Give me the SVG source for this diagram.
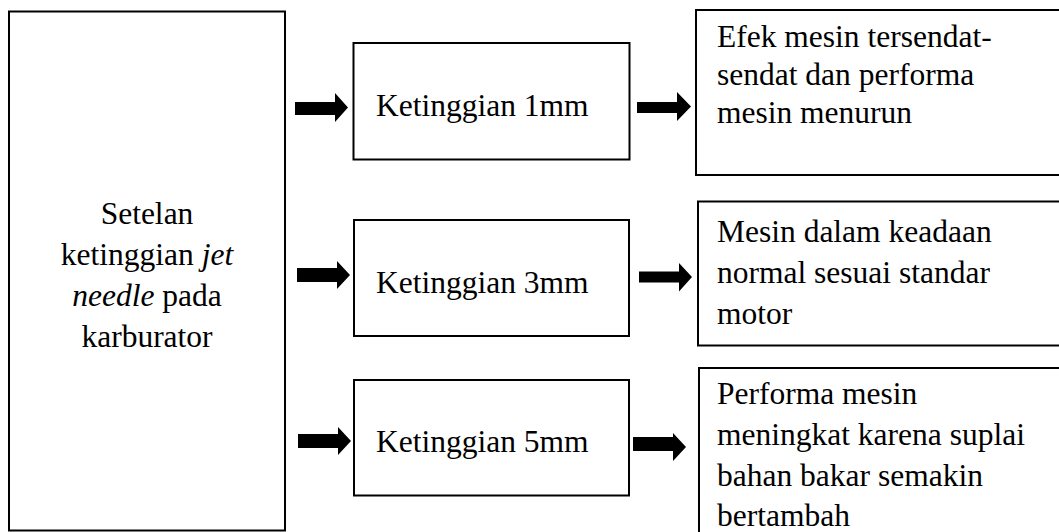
<svg xmlns="http://www.w3.org/2000/svg" width="1059" height="532" viewBox="0 0 1059 532">
<style>
.box{fill:#fff;stroke:#000;stroke-width:2}
.t{font-family:"Liberation Serif","Times New Roman",serif;font-size:31.5px;fill:#000}
.c{text-anchor:middle}
.arr{fill:#000;stroke:none}
</style>
<rect width="1059" height="532" fill="#fff"/>
<g id="source">
<rect class="box" x="9" y="11.5" width="276" height="519"/>
<text class="t c" x="147" y="224">Setelan</text>
<text class="t c" x="147" y="265">ketinggian <tspan font-style="italic">jet</tspan></text>
<text class="t c" x="147" y="306"><tspan font-style="italic">needle</tspan> pada</text>
<text class="t c" x="147" y="347">karburator</text>
</g>
<g id="h1">
<rect class="box" x="353.5" y="43" width="276" height="116.5"/>
<text class="t" x="376" y="116">Ketinggian 1mm</text>
</g>
<g id="h3">
<rect class="box" x="354" y="220" width="275" height="116"/>
<text class="t" x="376" y="293">Ketinggian 3mm</text>
</g>
<g id="h5">
<rect class="box" x="354" y="380" width="275" height="115.5"/>
<text class="t" x="376" y="452">Ketinggian 5mm</text>
</g>
<g id="r1">
<rect class="box" x="696" y="10" width="380" height="165"/>
<text class="t" x="717" y="47">Efek mesin tersendat-</text>
<text class="t" x="717" y="85">sendat dan performa</text>
<text class="t" x="717" y="123">mesin menurun</text>
</g>
<g id="r3">
<rect class="box" x="698" y="201.5" width="380" height="144"/>
<text class="t" x="717" y="242">Mesin dalam keadaan</text>
<text class="t" x="717" y="283">normal sesuai standar</text>
<text class="t" x="717" y="324">motor</text>
</g>
<g id="r5">
<rect class="box" x="699" y="368" width="380" height="180"/>
<text class="t" x="717" y="404">Performa mesin</text>
<text class="t" x="717" y="445">meningkat karena suplai</text>
<text class="t" x="717" y="486">bahan bakar semakin</text>
<text class="t" x="717" y="526">bertambah</text>
</g>
<g id="connectors">
<polygon class="arr" points="295,102 335,102 335,93 348,107.5 335,122 335,115 295,115"/>
<polygon class="arr" points="637,102 677,102 677,92 691,106.5 677,121 677,113 637,113"/>
<polygon class="arr" points="297,268 337,268 337,261 350,275 337,289 337,282 297,282"/>
<polygon class="arr" points="639,271.5 679,271.5 679,263 692,277 679,291.5 679,282.5 639,282.5"/>
<polygon class="arr" points="298,434 338,434 338,427 351,441 338,455 338,448 298,448"/>
<polygon class="arr" points="633,437 673,437 673,433 686,447 673,461 673,451 633,451"/>
</g>
</svg>
